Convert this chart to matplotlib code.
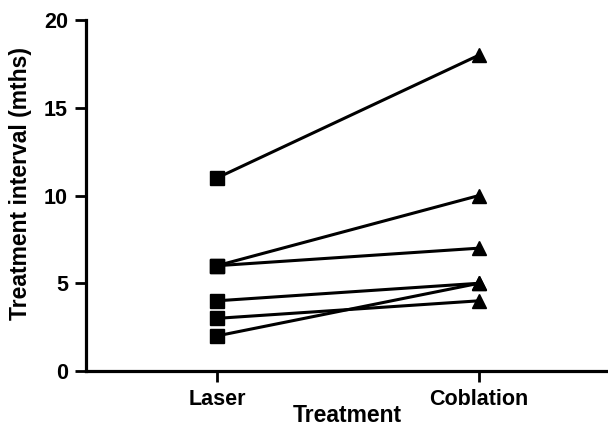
import matplotlib
matplotlib.use("Agg")
import matplotlib.pyplot as plt

categories = ["Laser", "Coblation"]
laser = [11, 6, 6, 4, 3, 2]
coblation = [18, 10, 7, 5, 4, 5]
yticks = [0, 5, 10, 15, 20]

plt.rcParams['font.family'] = ['Liberation Sans', 'DejaVu Sans']
plt.rcParams['font.weight'] = 'bold'

fig = plt.figure(figsize=(6.08, 4.28), dpi=100)
ax = fig.add_axes([86/608, (428-371)/428, (608-86)/608, (371-20)/428])

for a, b in zip(laser, coblation):
    ax.plot([0, 1], [a, b], color='black', lw=2.2, zorder=2)
ax.plot([0]*len(laser), laser, ls='none', marker='s', ms=9.5, color='black', zorder=3)
ax.plot([1]*len(coblation), coblation, ls='none', marker='^', ms=10.5, color='black', zorder=3)

ax.set_xlim(-0.5, 1.492)
ax.set_ylim(0, 20)
ax.set_yticks(yticks)
ax.set_xticks([0, 1])
ax.set_xticklabels(categories)
for s in ['top', 'right']:
    ax.spines[s].set_visible(False)
for s in ['left', 'bottom']:
    ax.spines[s].set_linewidth(2.3)
ax.tick_params(width=2, length=8, labelsize=15.5, colors='black')
ax.tick_params(axis='y', pad=5)
ax.tick_params(axis='x', pad=5)
ax.set_xlabel("Treatment", fontsize=16.5, fontweight='bold', labelpad=-4)
ax.set_ylabel("Treatment interval (mths)", fontsize=16.5, fontweight='bold', labelpad=6)
ax.yaxis.set_label_coords(-0.104, 0.535)
for lab in ax.get_xticklabels() + ax.get_yticklabels():
    lab.set_fontweight('bold')

fig.savefig("out.png", dpi=100)
